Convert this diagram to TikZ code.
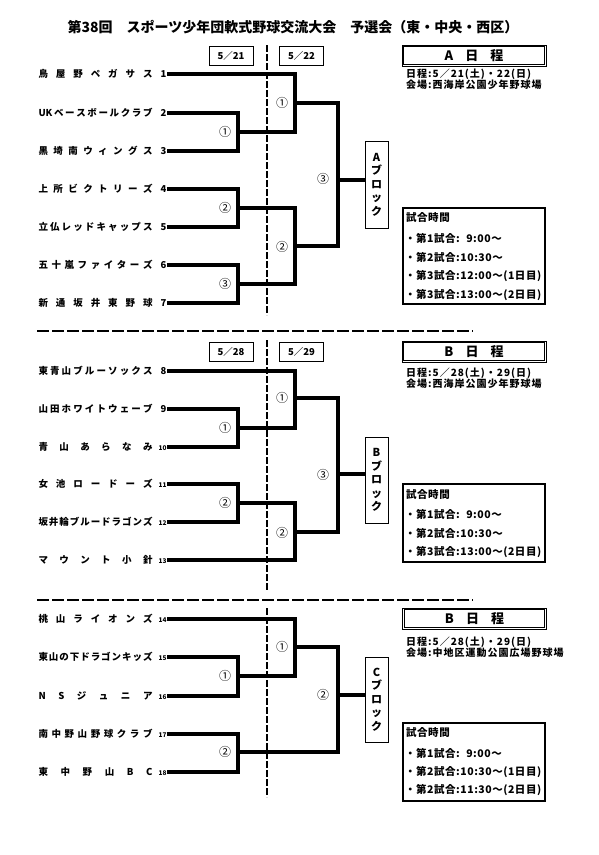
\documentclass[tikz,border=0pt]{standalone}
\usepackage{fontspec}
\setmainfont{Noto Sans CJK JP}
\newfontfamily\infofont{Noto Sans CJK JP}[LetterSpace=10]
\newfontfamily\tlfont{Noto Sans CJK JP}[LetterSpace=5]
\newcommand\tmn[2]{\makebox[128pt][l]{\makebox[114pt][l]{#1}\hfill#2}}
\newcommand\sn[1]{{\fontsize{6.5}{7}\selectfont #1}}
\begin{document}
\begin{tikzpicture}[x=1pt,y=-1pt,
  br/.style={line width=3.2pt,line join=miter},
  tname/.style={anchor=west,inner sep=0pt,outer sep=0.5pt,font=\bfseries\fontsize{9.5}{10}\selectfont},
  mlab/.style={inner sep=0pt,font=\fontsize{12}{12}\selectfont},
  datebox/.style={draw,line width=0.6pt,minimum width=44pt,minimum height=19pt,inner sep=0pt,font=\bfseries\fontsize{9.5}{10}\selectfont},
  blockbox/.style={draw,line width=0.6pt,minimum width=23pt,inner sep=0pt,align=center,font=\bfseries\fontsize{11}{13.5}\selectfont},
  hdrbox/.style={draw,line width=0.8pt,minimum width=144pt,minimum height=21pt,inner sep=0pt,font=\bfseries\fontsize{13}{13}\selectfont},
  hdrin/.style={line width=0.8pt},
  info/.style={anchor=west,inner sep=0pt,font=\infofont\bfseries\fontsize{10}{10}\selectfont},
  tbox/.style={draw,line width=2pt,minimum width=142pt,inner sep=0pt},
  tl/.style={anchor=west,inner sep=0pt,font=\tlfont\bfseries\fontsize{10.5}{11}\selectfont},
  vdash/.style={line width=2.4pt,dash pattern=on 7pt off 2pt},
  hdash/.style={line width=2.6pt,dash pattern=on 12pt off 3pt}]
\useasboundingbox (0,0) rectangle (599,855);

% title
\node[inner sep=0pt,font=\bfseries\fontsize{14}{14}\selectfont] (title) at (293,27) {第38回　スポーツ少年団軟式野球交流大会　予選会（東・中央・西区）};

% separators
\coordinate (s1a) at (37,331); \coordinate (s1b) at (473,331);
\coordinate (s2a) at (37,600); \coordinate (s2b) at (473,600);
\draw[hdash] (s1a) -- (s1b);
\draw[hdash] (s2a) -- (s2b);

% vertical dashed lines
\coordinate (va1) at (267,45); \coordinate (va2) at (267,315);
\coordinate (vb1) at (267,340); \coordinate (vb2) at (267,590);
\coordinate (vc1) at (267,608); \coordinate (vc2) at (267,797);
\draw[vdash] (va1) -- (va2);
\draw[vdash] (vb1) -- (vb2);
\draw[vdash] (vc1) -- (vc2);

% date boxes
\node[datebox] (dA1) at (231,55.5) {5／21};
\node[datebox] (dA2) at (301.5,55.5) {5／22};
\node[datebox] (dB1) at (231,352) {5／28};
\node[datebox] (dB2) at (301.5,352) {5／29};

% ===== Section A teams
\node[tname] (t1) at (38,74) {\tmn{鳥\hfill 屋\hfill 野\hfill ペ\hfill ガ\hfill サ\hfill ス}{1}};
\node[tname] (t2) at (38,113) {\tmn{UK\hfill ベ\hfill ー\hfill ス\hfill ボ\hfill ー\hfill ル\hfill ク\hfill ラ\hfill ブ}{2}};
\node[tname] (t3) at (38,151) {\tmn{黒\hfill 埼\hfill 南\hfill ウ\hfill ィ\hfill ン\hfill グ\hfill ス}{3}};
\node[tname] (t4) at (38,189) {\tmn{上\hfill 所\hfill ビ\hfill ク\hfill ト\hfill リ\hfill ー\hfill ズ}{4}};
\node[tname] (t5) at (38,227) {\tmn{立\hfill 仏\hfill レ\hfill ッ\hfill ド\hfill キ\hfill ャ\hfill ッ\hfill プ\hfill ス}{5}};
\node[tname] (t6) at (38,265) {\tmn{五\hfill 十\hfill 嵐\hfill フ\hfill ァ\hfill イ\hfill タ\hfill ー\hfill ズ}{6}};
\node[tname] (t7) at (38,303) {\tmn{新\hfill 通\hfill 坂\hfill 井\hfill 東\hfill 野\hfill 球}{7}};

\coordinate (a1) at (238,132); \coordinate (a1o) at (295,132);
\coordinate (a2) at (238,208); \coordinate (a3) at (238,284); \coordinate (a3o) at (295,284);
\coordinate (am1) at (295,103); \coordinate (am1o) at (338,103);
\coordinate (am2) at (295,246); \coordinate (am2o) at (338,246);
\coordinate (af) at (338,180);
\draw[br] (t2.east) -| (a1) |- (t3.east);
\draw[br] (t1.east) -| (a1o) -- (a1);
\draw[br] (t4.east) -| (a2) |- (t5.east);
\draw[br] (t6.east) -| (a3) |- (t7.east);
\draw[br] (a2) -| (a3o) -- (a3);
\draw[br] (am1) -| (am2o) -- (am2);
\node[blockbox,minimum height=87pt] (Ablk) at (376.5,184.5) {A\\ブ\\ロ\\ッ\\ク};
\draw[br] (af) -- (af -| Ablk.west);
\node[mlab] (lA1) at (225,132) {①};
\node[mlab] (lA2) at (225,208) {②};
\node[mlab] (lA3) at (225,284) {③};
\node[mlab] (lA4) at (282,103) {①};
\node[mlab] (lA5) at (282,247) {②};
\node[mlab] (lA6) at (323,179) {③};

% ===== Section B teams
\node[tname] (t8) at (38,371) {\tmn{東\hfill 青\hfill 山\hfill ブ\hfill ル\hfill ー\hfill ソ\hfill ッ\hfill ク\hfill ス}{8}};
\node[tname] (t9) at (38,409) {\tmn{山\hfill 田\hfill ホ\hfill ワ\hfill イ\hfill ト\hfill ウ\hfill ェ\hfill ー\hfill ブ}{9}};
\node[tname] (t10) at (38,447) {\tmn{青\hfill 山\hfill あ\hfill ら\hfill な\hfill み}{\sn{10}}};
\node[tname] (t11) at (38,484) {\tmn{女\hfill 池\hfill ロ\hfill ー\hfill ド\hfill ー\hfill ズ}{\sn{11}}};
\node[tname] (t12) at (38,522) {\tmn{坂\hfill 井\hfill 輪\hfill ブ\hfill ル\hfill ー\hfill ド\hfill ラ\hfill ゴ\hfill ン\hfill ズ}{\sn{12}}};
\node[tname] (t13) at (38,560) {\tmn{マ\hfill ウ\hfill ン\hfill ト\hfill 小\hfill 針}{\sn{13}}};

\coordinate (b1) at (238,428); \coordinate (b1o) at (295,428);
\coordinate (b2) at (238,503); \coordinate (b2c) at (295,560);
\coordinate (bm1) at (295,398); \coordinate (bm1o) at (338,398);
\coordinate (bm2) at (295,532); \coordinate (bm2o) at (338,532);
\coordinate (bf) at (338,474);
\draw[br] (t9.east) -| (b1) |- (t10.east);
\draw[br] (t8.east) -| (b1o) -- (b1);
\draw[br] (t11.east) -| (b2) |- (t12.east);
\draw[br] (b2) -| (b2c) -- (t13.east);
\draw[br] (bm1) -| (bm2o) -- (bm2);
\node[blockbox,minimum height=86pt] (Bblk) at (376.5,480) {B\\ブ\\ロ\\ッ\\ク};
\draw[br] (bf) -- (bf -| Bblk.west);
\node[mlab] (lB1) at (225,428) {①};
\node[mlab] (lB2) at (225,503) {②};
\node[mlab] (lB3) at (282,398) {①};
\node[mlab] (lB4) at (282,533) {②};
\node[mlab] (lB5) at (323,475) {③};

% ===== Section C teams
\node[tname] (t14) at (38,619) {\tmn{桃\hfill 山\hfill ラ\hfill イ\hfill オ\hfill ン\hfill ズ}{\sn{14}}};
\node[tname] (t15) at (38,657) {\tmn{東\hfill 山\hfill の\hfill 下\hfill ド\hfill ラ\hfill ゴ\hfill ン\hfill キ\hfill ッ\hfill ズ}{\sn{15}}};
\node[tname] (t16) at (38,696) {\tmn{N\hfill S\hfill ジ\hfill ュ\hfill ニ\hfill ア}{\sn{16}}};
\node[tname] (t17) at (38,734) {\tmn{南\hfill 中\hfill 野\hfill 山\hfill 野\hfill 球\hfill ク\hfill ラ\hfill ブ}{\sn{17}}};
\node[tname] (t18) at (38,772) {\tmn{東\hfill 中\hfill 野\hfill 山\hfill B\hfill C}{\sn{18}}};

\coordinate (c1) at (238,676); \coordinate (c1o) at (295,676);
\coordinate (c2) at (238,752); \coordinate (c2o) at (338,752);
\coordinate (cm1) at (295,647);
\coordinate (cf) at (338,695);
\draw[br] (t15.east) -| (c1) |- (t16.east);
\draw[br] (t14.east) -| (c1o) -- (c1);
\draw[br] (t17.east) -| (c2) |- (t18.east);
\draw[br] (cm1) -| (c2o) -- (c2);
\node[blockbox,minimum height=85pt] (Cblk) at (376.5,699.5) {C\\ブ\\ロ\\ッ\\ク};
\draw[br] (cf) -- (cf -| Cblk.west);
\node[mlab] (lC1) at (225,676) {①};
\node[mlab] (lC2) at (225,752) {②};
\node[mlab] (lC3) at (282,647) {①};
\node[mlab] (lC4) at (323,695) {②};

% ===== right side A
\node[hdrbox] (hA) at (474,55.5) {A\hspace{12pt}日\hspace{12pt}程};
\draw[hdrin] ([shift={(2.2pt,-2.2pt)}]hA.north west) rectangle ([shift={(-2.2pt,2.2pt)}]hA.south east);
\node[info] (iA1) at (406,74) {日程:5／21(土)・22(日)};
\node[info] (iA2) at (406,84.5) {会場:西海岸公園少年野球場};
\node[tbox,minimum height=96pt] (tbA) at (474,256) {};
\node[tl] (tA0) at (406,218) {試合時間};
\node[tl] (tA1) at (405,238) {・第1試合:\phantom{1}9:00〜};
\node[tl] (tA2) at (405,257) {・第2試合:10:30〜};
\node[tl] (tA3) at (405,276) {・第3試合:12:00〜(1日目)};
\node[tl] (tA4) at (405,295) {・第3試合:13:00〜(2日目)};

% ===== right side B
\node[hdrbox] (hB) at (474,351.5) {B\hspace{12pt}日\hspace{12pt}程};
\draw[hdrin] ([shift={(2.2pt,-2.2pt)}]hB.north west) rectangle ([shift={(-2.2pt,2.2pt)}]hB.south east);
\node[info] (iB1) at (406,373) {日程:5／28(土)・29(日)};
\node[info] (iB2) at (406,384) {会場:西海岸公園少年野球場};
\node[tbox,minimum height=78pt] (tbB) at (474,523) {};
\node[tl] (tB0) at (406,495) {試合時間};
\node[tl] (tB1) at (405,514) {・第1試合:\phantom{1}9:00〜};
\node[tl] (tB2) at (405,533) {・第2試合:10:30〜};
\node[tl] (tB3) at (405,552) {・第3試合:13:00〜(2日目)};

% ===== right side C
\node[hdrbox] (hC) at (474.5,618.5) {B\hspace{12pt}日\hspace{12pt}程};
\draw[hdrin] ([shift={(2.2pt,-2.2pt)}]hC.north west) rectangle ([shift={(-2.2pt,2.2pt)}]hC.south east);
\node[info] (iC1) at (406,642) {日程:5／28(土)・29(日)};
\node[info] (iC2) at (406,653) {会場:中地区運動公園広場野球場};
\node[tbox,minimum height=78pt] (tbC) at (474,762) {};
\node[tl] (tC0) at (406,733) {試合時間};
\node[tl] (tC1) at (405,753) {・第1試合:\phantom{1}9:00〜};
\node[tl] (tC2) at (405,772) {・第2試合:10:30〜(1日目)};
\node[tl] (tC3) at (405,790) {・第2試合:11:30〜(2日目)};
\end{tikzpicture}
\end{document}
